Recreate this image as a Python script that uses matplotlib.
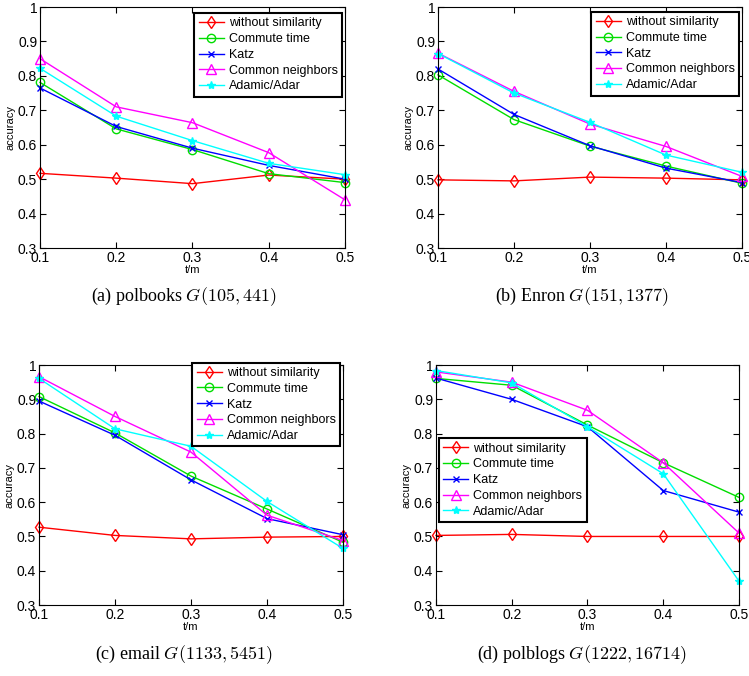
import matplotlib
matplotlib.use("Agg")
import matplotlib.pyplot as plt

plt.rcParams['font.family'] = ['Liberation Sans', 'DejaVu Sans']
plt.rcParams['mathtext.fontset'] = 'cm'

t_m = [0.1, 0.2, 0.3, 0.4, 0.5]
methods = ["without similarity", "Commute time", "Katz", "Common neighbors", "Adamic/Adar"]

# accuracy per panel, one list per method (same order as methods)
polbooks = [
    [0.517, 0.503, 0.487, 0.512, 0.500],
    [0.781, 0.646, 0.586, 0.516, 0.490],
    [0.765, 0.653, 0.590, 0.540, 0.500],
    [0.850, 0.710, 0.664, 0.577, 0.440],
    [0.822, 0.683, 0.612, 0.546, 0.513],
]
enron = [
    [0.498, 0.495, 0.506, 0.503, 0.498],
    [0.803, 0.673, 0.596, 0.538, 0.488],
    [0.820, 0.688, 0.597, 0.532, 0.490],
    [0.866, 0.755, 0.660, 0.595, 0.508],
    [0.865, 0.750, 0.665, 0.570, 0.520],
]
email = [
    [0.527, 0.503, 0.493, 0.498, 0.500],
    [0.908, 0.802, 0.676, 0.580, 0.483],
    [0.895, 0.795, 0.665, 0.552, 0.505],
    [0.966, 0.850, 0.746, 0.562, 0.488],
    [0.961, 0.814, 0.763, 0.602, 0.465],
]
polblogs = [
    [0.503, 0.506, 0.500, 0.500, 0.500],
    [0.961, 0.941, 0.825, 0.715, 0.614],
    [0.962, 0.900, 0.820, 0.634, 0.571],
    [0.980, 0.950, 0.868, 0.715, 0.510],
    [0.984, 0.948, 0.820, 0.683, 0.370],
]

captions = [
    r"(a) polbooks $G(105,441)$",
    r"(b) Enron $G(151,1377)$",
    r"(c) email $G(1133,5451)$",
    r"(d) polblogs $G(1222,16714)$",
]

styles = [
    dict(color="#ff0000", marker="d", mfc="none", ms=6),
    dict(color="#00dd00", marker="o", mfc="none", ms=6),
    dict(color="#0000ff", marker="x", ms=4),
    dict(color="#ff00ff", marker="^", mfc="none", ms=7),
    dict(color="#00ffff", marker="*", ms=6),
]

# axes rectangles in figure fraction
rects = [
    [0.0534, 0.6331, 0.4072, 0.3565],
    [0.5848, 0.6331, 0.4059, 0.3565],
    [0.0521, 0.1050, 0.4059, 0.3550],
    [0.5821, 0.1050, 0.4045, 0.3550],
]
legend_locs = ["upper right", "upper right", "upper right", "center left"]
legend_anchor = [(0.99, 0.975), (0.99, 0.98), (0.99, 1.01), (0.01, 0.52)]

fig = plt.figure(figsize=(7.49, 6.76), dpi=100)

for k, data in enumerate([polbooks, enron, email, polblogs]):
    ax = fig.add_axes(rects[k])
    for name, vals, st in zip(methods, data, styles):
        ax.plot(t_m, vals, lw=1, mew=1, label=name, clip_on=False, **st)
    ax.set_xlim(0.1, 0.5)
    ax.set_ylim(0.3, 1.0)
    ax.set_xticks(t_m)
    ax.set_xticklabels(["0.1", "0.2", "0.3", "0.4", "0.5"])
    ax.set_yticks([0.3, 0.4, 0.5, 0.6, 0.7, 0.8, 0.9, 1.0])
    ax.set_yticklabels(["0.3", "0.4", "0.5", "0.6", "0.7", "0.8", "0.9", "1"])
    ax.tick_params(direction="in", top=True, right=True, length=4, labelsize=10, pad=2)
    for s in ax.spines.values():
        s.set_linewidth(0.8)
    ax.set_xlabel("t/m", fontsize=8, labelpad=0)
    ax.set_ylabel("accuracy", fontsize=8, labelpad=2)
    leg = ax.legend(loc=legend_locs[k], bbox_to_anchor=legend_anchor[k], fontsize=9,
                    fancybox=False, handlelength=2.0, borderaxespad=0.0,
                    labelspacing=0.3, handletextpad=0.4, borderpad=0.35, framealpha=1)
    leg.get_frame().set_edgecolor("black")
    leg.get_frame().set_linewidth(1.5)

fig.text(0.246, 1 - 297 / 676, captions[0], ha="center", va="center",
         fontsize=13, family="Liberation Serif")
fig.text(0.777, 1 - 297 / 676, captions[1], ha="center", va="center",
         fontsize=13, family="Liberation Serif")
fig.text(0.246, 1 - 655 / 676, captions[2], ha="center", va="center",
         fontsize=13, family="Liberation Serif")
fig.text(0.777, 1 - 655 / 676, captions[3], ha="center", va="center",
         fontsize=13, family="Liberation Serif")

fig.savefig("out.png", dpi=100)
